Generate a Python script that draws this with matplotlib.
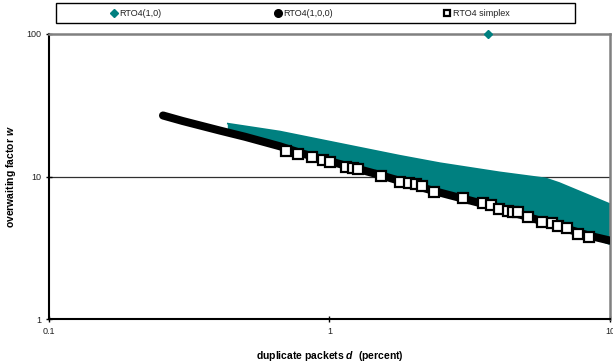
import matplotlib.pyplot as plt
from matplotlib.lines import Line2D
from matplotlib.patches import Rectangle
from matplotlib.ticker import FixedLocator, FixedFormatter, NullLocator

# RTO4(1,0): band between upper envelope and lower envelope
teal_top_d = [0.434, 0.665, 1.0, 1.78, 2.48, 4.04, 5.9, 6.6, 10.0]
teal_top_w = [23.5, 20.7, 17.6, 14.0, 12.4, 10.7, 9.7, 9.0, 6.4]
teal_low_d = [0.434, 0.665, 1.0, 1.5, 2.36, 3.5, 5.1, 7.0, 10.0]
teal_low_w = [20.3, 16.3, 12.8, 10.3, 7.9, 6.45, 5.2, 4.3, 3.3]
# single RTO4(1,0) point at the top edge
outlier_d = [3.67]
outlier_w = [100]

# RTO4(1,0,0)
black_d = [0.255, 0.30, 0.407, 0.50, 0.665, 0.80, 1.0, 1.5, 2.36, 3.5, 5.1, 7.0, 8.4, 10.0]
black_w = [26.8, 24.5, 21.0, 19.0, 16.3, 14.5, 12.8, 10.3, 7.9, 6.45, 5.2, 4.3, 3.85, 3.55]

# RTO4 simplex
simplex_d = [0.700, 0.774, 0.864, 0.948, 1.004, 1.145, 1.213, 1.264, 1.522, 1.783,
             1.920, 2.029, 2.132, 2.358, 2.99, 3.53, 3.77, 4.02, 4.33, 4.51, 4.70,
             5.10, 5.72, 6.21, 6.53, 7.03, 7.69, 8.41]
simplex_w = [14.98, 14.43, 13.6, 13.0, 12.54, 11.75, 11.56, 11.38, 10.16, 9.22,
             8.97, 8.83, 8.51, 7.76, 7.01, 6.47, 6.26, 5.96, 5.77, 5.68, 5.59,
             5.24, 4.83, 4.68, 4.53, 4.32, 3.92, 3.79]

x_ticks = [0.1, 1, 10]
x_tick_labels = ['0.1', '1', '10']
y_ticks = [1, 10, 100]
y_tick_labels = ['1', '10', '100']
series_labels = ['RTO4(1,0)', 'RTO4(1,0,0)', 'RTO4 simplex']

TEAL = '#008080'

plt.rcParams['font.family'] = ['Liberation Sans', 'DejaVu Sans']
plt.rcParams['mathtext.fontset'] = 'custom'
plt.rcParams['mathtext.it'] = 'Liberation Sans:italic:bold'

fig = plt.figure(figsize=(6.13, 3.64), dpi=100)
ax = fig.add_axes([0.0799, 0.1236, 0.9152, 0.783])
ax.set_xscale('log')
ax.set_yscale('log')
ax.set_xlim(0.1, 10)
ax.set_ylim(1, 100)

# gridline at 10
ax.axhline(10, color='#303030', lw=0.9, zorder=1)

# series, drawn in Excel order: teal first, then black, then squares
ax.fill(teal_top_d + teal_low_d[::-1], teal_top_w + teal_low_w[::-1],
        color=TEAL, lw=0, zorder=2)
ax.plot(teal_top_d, teal_top_w, color=TEAL, lw=1.2, zorder=2)
ax.plot(outlier_d, outlier_w, 'D', color=TEAL, ms=4.5, clip_on=False, zorder=6)
ax.plot(black_d, black_w, color='black', lw=5.8, solid_capstyle='round', zorder=3)
ax.plot(simplex_d, simplex_w, 's', ls='none', mfc='white', mec='black',
        mew=1.6, ms=7.5, zorder=4)

# axes frame
for side in ['left', 'bottom']:
    ax.spines[side].set_color('black')
    ax.spines[side].set_linewidth(1.5)
for side in ['top', 'right']:
    ax.spines[side].set_color('#808080')
    ax.spines[side].set_linewidth(1.8)

ax.xaxis.set_major_locator(FixedLocator(x_ticks))
ax.xaxis.set_major_formatter(FixedFormatter(x_tick_labels))
ax.yaxis.set_major_locator(FixedLocator(y_ticks))
ax.yaxis.set_major_formatter(FixedFormatter(y_tick_labels))
ax.xaxis.set_minor_locator(NullLocator())
ax.yaxis.set_minor_locator(NullLocator())
ax.tick_params(direction='inout', length=5, width=1, labelsize=6.5,
               labelcolor='#222222', pad=3)

ax.set_xlabel('duplicate packets $d$  (percent)', fontsize=7.5, fontweight='bold')
ax.set_ylabel('overwaiting factor $w$', fontsize=7.5, fontweight='bold')
ax.xaxis.set_label_coords(0.5, -0.105)
ax.yaxis.set_label_coords(-0.056, 0.5)

# legend box across the top
W, H = 613.0, 364.0
fig.add_artist(Rectangle((55.7 / W, 1 - 23 / H), 519 / W, 20 / H,
                         transform=fig.transFigure, fill=False, ec='black', lw=1))
legend_handles = [
    dict(marker='D', color=TEAL, ms=4.5, mfc=TEAL, mec=TEAL),
    dict(marker='o', color='black', ms=5.5, mfc='black', mec='black'),
    dict(marker='s', color='black', ms=5, mfc='white', mec='black', mew=1.6),
]
marker_x = [114, 278, 447]
text_x = [119, 283, 453]
ly = 1 - 13 / H
for lab, h, mx, tx in zip(series_labels, legend_handles, marker_x, text_x):
    fig.add_artist(Line2D([mx / W], [ly], ls='none', transform=fig.transFigure, **h))
    fig.text(tx / W, ly, lab, fontsize=6.5, va='center', ha='left', color='#222222')

fig.savefig('out.png', dpi=100)
